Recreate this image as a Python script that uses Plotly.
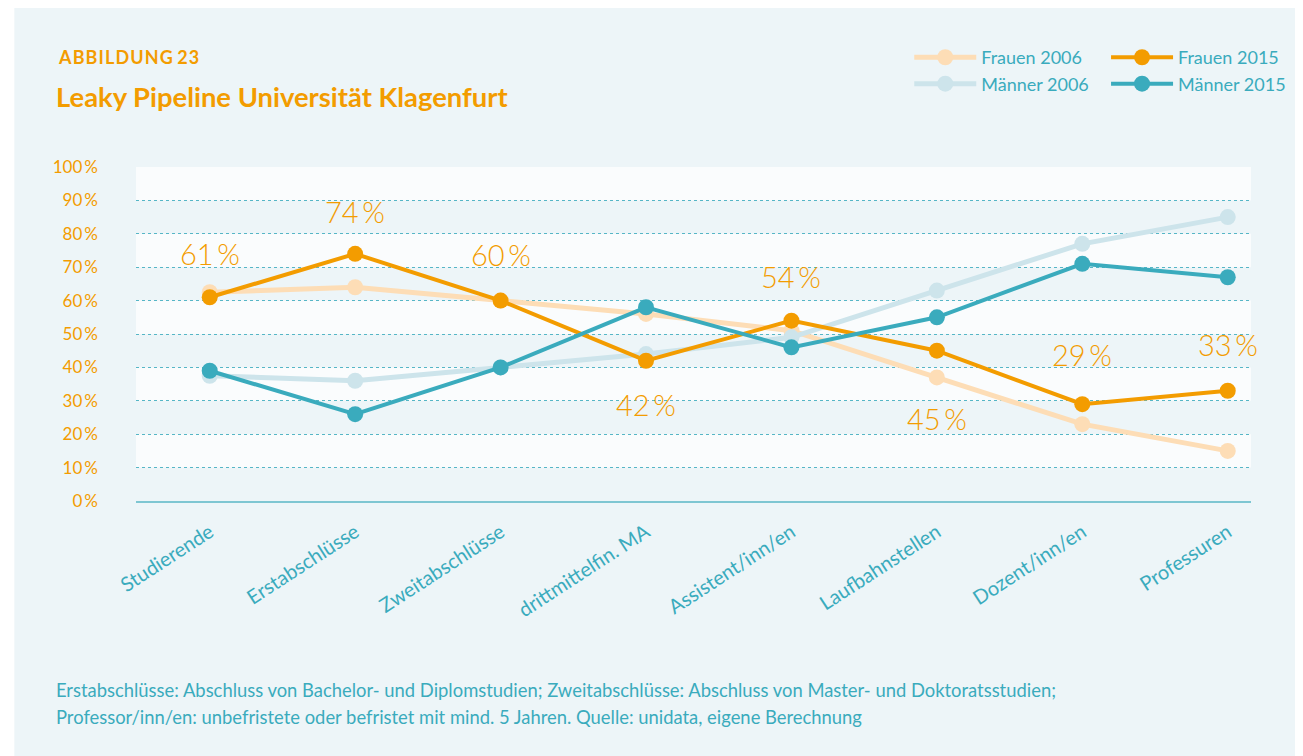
import plotly.graph_objects as go

categories = ["Studierende", "Erstabschlüsse", "Zweitabschlüsse", "drittmittelfin. MA",
              "Assistent/inn/en", "Laufbahnstellen", "Dozent/inn/en", "Professuren"]
frauen_2006 = [62.5, 64, 60, 56, 51, 37, 23, 15]
maenner_2006 = [37.5, 36, 40, 44, 49, 63, 77, 85]
frauen_2015 = [61, 74, 60, 42, 54, 45, 29, 33]
maenner_2015 = [39, 26, 40, 58, 46, 55, 71, 67]
label_shift = [44, 42, 46, -44, 44, -68, 50, 46]   # pixel offset of value labels
y_ticks = list(range(0, 101, 10))
y_ticklabels = [f"{v}\u2009%" for v in y_ticks]

ORANGE = "#F39C00"
ORANGE_L = "#FDDDB6"
TEAL = "#3AABBD"
TEAL_L = "#CDE4EB"
BG = "#EDF5F8"
BAND = "#FAFCFD"
FONT = "Lato"

x_idx = list(range(len(categories)))

fig = go.Figure()

def add(name, vals, color, legend, rank, width=4):
    fig.add_trace(go.Scatter(
        x=x_idx, y=vals, name=name, mode="lines+markers",
        line=dict(color=color, width=width),
        marker=dict(color=color, size=16),
        legend=legend, legendrank=rank, hoverinfo="skip"))

add("Frauen 2006", frauen_2006, ORANGE_L, "legend", 1, 5)
add("Männer 2006", maenner_2006, TEAL_L, "legend", 2, 5)
add("Frauen 2015", frauen_2015, ORANGE, "legend2", 3)
add("Männer 2015", maenner_2015, TEAL, "legend2", 4)

shapes = [dict(type="rect", xref="paper", yref="paper", x0=-0.1091, x1=1.05,
               y0=-0.78, y1=1.479, fillcolor=BG, line=dict(width=0), layer="below")]
for lo in range(10, 100, 20):
    shapes.append(dict(type="rect", xref="paper", yref="y", x0=0, x1=1,
                       y0=lo, y1=lo + 10, fillcolor=BAND, line=dict(width=0), layer="below"))

annotations = []
for i, (v, s) in enumerate(zip(frauen_2015, label_shift)):
    annotations.append(dict(x=i, y=v, xref="x", yref="y", text=f"{v}\u2009%",
                            showarrow=False, yshift=s,
                            font=dict(family=FONT, size=29, color=ORANGE, weight=300)))

spaced_title = "\u200a".join("ABBILDUNG") + " " + "\u200a".join("23")
annotations += [
    dict(xref="paper", yref="paper", x=-0.0716, y=1.329, xanchor="left", yanchor="middle",
         text=f"<b>{spaced_title}</b>",
         showarrow=False, font=dict(family=FONT, size=18, color=ORANGE)),
    dict(xref="paper", yref="paper", x=-0.0734, y=1.212, xanchor="left", yanchor="middle",
         text="<b>Leaky Pipeline Universität Klagenfurt</b>", showarrow=False,
         font=dict(family=FONT, size=27.4, color=ORANGE)),
    dict(xref="paper", yref="paper", x=-0.0734, y=-0.566, xanchor="left", yanchor="middle",
         text="Erstabschlüsse: Abschluss von Bachelor- und Diplomstudien; Zweitabschlüsse: Abschluss von Master- und Doktoratsstudien;",
         showarrow=False, font=dict(family=FONT, size=18.4, color=TEAL)),
    dict(xref="paper", yref="paper", x=-0.0734, y=-0.647, xanchor="left", yanchor="middle",
         text="Professor/inn/en: unbefristete oder befristet mit mind. 5 Jahren. Quelle: unidata, eigene Berechnung",
         showarrow=False, font=dict(family=FONT, size=18.4, color=TEAL)),
]

legend_style = dict(font=dict(family=FONT, size=18, color=TEAL), bgcolor="rgba(0,0,0,0)",
                    orientation="v", xanchor="left", yanchor="top", itemwidth=62,
                    tracegroupgap=0, traceorder="normal")

fig.update_layout(
    width=1295, height=748,
    margin=dict(l=128, r=49, t=159, b=255),
    paper_bgcolor="white", plot_bgcolor="rgba(0,0,0,0)",
    font=dict(family=FONT, color=TEAL),
    showlegend=True,
    legend=dict(x=0.6935, y=1.383, **legend_style),
    legend2=dict(x=0.870, y=1.383, **legend_style),
    shapes=shapes, annotations=annotations,
    xaxis=dict(range=[-0.507, 7.16], tickmode="array", tickvals=x_idx, ticktext=categories,
               tickangle=-33, tickfont=dict(family=FONT, size=20, color=TEAL),
               showgrid=False, zeroline=False, showline=True, linecolor="#7EC6D2", linewidth=1.5,
               ticks="", ticklabelstandoff=10, fixedrange=True),
    yaxis=dict(range=[0, 100], tickmode="array", tickvals=y_ticks, ticktext=y_ticklabels,
               tickfont=dict(family=FONT, size=17, color=ORANGE),
               showgrid=True, gridcolor="#56B6C6", griddash="dot", gridwidth=1,
               zeroline=False, showline=False, ticks="", ticklabelstandoff=37, fixedrange=True),
)

fig.write_html("out.html")
